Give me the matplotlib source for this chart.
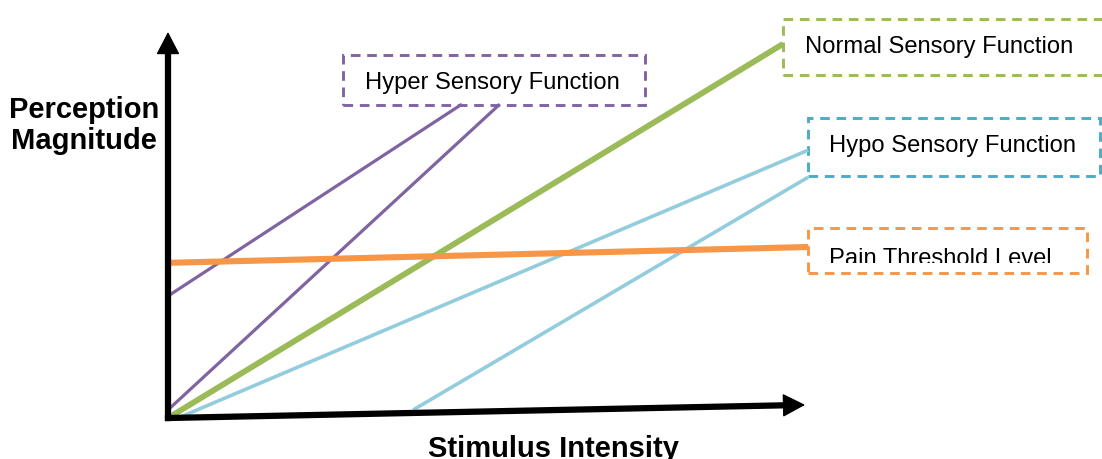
import matplotlib.pyplot as plt
from matplotlib.patches import Rectangle

# diagram units: stimulus intensity (x) and perception magnitude (y)
# each response line is (x0, y0, x1, y1)
hyper_lines = [(0.0, 3.16, 4.65, 8.13), (0.0, 0.21, 5.25, 8.13)]
normal_line = (0.0, 0.0, 9.73, 9.69)
hypo_lines = [(0.16, 0.0, 10.13, 6.94), (3.88, 0.21, 10.13, 6.24)]
pain_line = (0.0, 4.02, 10.13, 4.43)

# label boxes: name, x0, x1, y0, y1
box_names = ['Hyper Sensory Function', 'Normal Sensory Function',
             'Hypo Sensory Function', 'Pain Threshold Level']
box_x0 = [2.77, 9.73, 10.13, 10.13]
box_x1 = [7.55, 15.3, 14.75, 14.54]
box_y0 = [8.11, 8.89, 6.27, 3.76]
box_y1 = [9.40, 10.34, 7.77, 4.92]
text_x = [3.12, 10.08, 10.46, 10.46]
text_y = [8.52, 9.46, 6.89, 3.96]
box_colors = ['#8064a2', '#9bbb59', '#4bacc6', '#f79646']

x_axis_end = (10.08, 0.34)
y_axis_end = (0.0, 10.0)

fig = plt.figure(figsize=(11.02, 4.59), dpi=100)
ax = fig.add_axes([0, 0, 1, 1])
ax.set_xlim(-2.658, 14.778)
ax.set_ylim(-1.062, 10.829)
ax.axis('off')

for x0, y0, x1, y1 in hyper_lines:
    ax.plot([x0, x1], [y0, y1], color='#8064a2', lw=2.3, solid_capstyle='butt')
for x0, y0, x1, y1 in hypo_lines:
    ax.plot([x0, x1], [y0, y1], color='#93cddd', lw=2.6, solid_capstyle='butt')
ax.plot([normal_line[0], normal_line[2]], [normal_line[1], normal_line[3]],
        color='#9bbb59', lw=4.2, solid_capstyle='butt')
ax.plot([pain_line[0], pain_line[2]], [pain_line[1], pain_line[3]],
        color='#f79646', lw=4.4, solid_capstyle='butt')

# axes: thick shaft + filled triangular head
for end in [x_axis_end, y_axis_end]:
    ax.plot([0, end[0] * 0.97], [0, end[1] * 0.97], color='black', lw=4.5,
            solid_capstyle='projecting')
    ax.annotate('', xy=end, xytext=(0, 0),
                arrowprops=dict(arrowstyle='-|>,head_length=1.0,head_width=0.52',
                                mutation_scale=14.4, lw=1, color='black',
                                shrinkA=0, shrinkB=0))

for i, name in enumerate(box_names):
    ax.add_patch(Rectangle((box_x0[i], box_y0[i]), box_x1[i] - box_x0[i],
                           box_y1[i] - box_y0[i], fill=False,
                           edgecolor=box_colors[i], lw=2.1,
                           linestyle=(0, (3.3, 2.3))))
    t = ax.text(text_x[i], text_y[i], name, fontsize=17.1, family='Liberation Sans',
                va='baseline', ha='left', color='black')
    if name == 'Pain Threshold Level':
        # text is cut off at the bottom in the original
        clip = Rectangle((box_x0[i], 4.02), box_x1[i] - box_x0[i], 2,
                         transform=ax.transData)
        t.set_clip_path(clip)
        t.set_clip_on(True)

ax.text(-1.33, 6.97, 'Perception\nMagnitude', fontsize=21, fontweight='bold',
        family='Liberation Sans', ha='center', va='baseline', linespacing=1.15)
ax.text(6.1, -1.02, 'Stimulus Intensity', fontsize=21, fontweight='bold',
        family='Liberation Sans', ha='center', va='baseline')

fig.savefig('out.png', dpi=100)
